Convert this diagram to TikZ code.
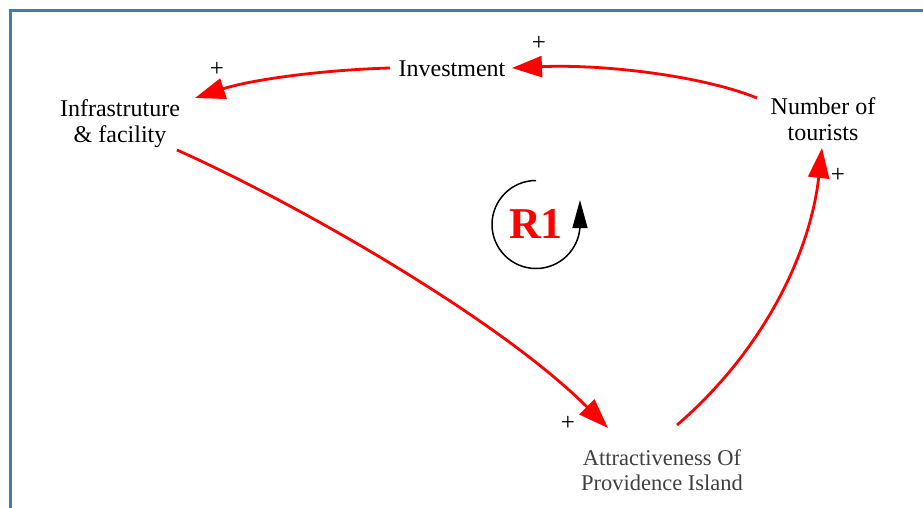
\documentclass[tikz,border=0pt]{standalone}
\usepackage{fontspec}
\setmainfont{Liberation Serif}
\usetikzlibrary{arrows.meta}
\definecolor{framecol}{RGB}{74,122,163}
\definecolor{txtgray}{RGB}{64,64,64}
\begin{document}
\begin{tikzpicture}[x=1pt,y=-1pt,
  var/.style={inner sep=0pt,align=center,font=\fontsize{24}{26}\selectfont},
  pol/.style={inner sep=0pt,font=\fontsize{25}{27}\selectfont},
  link/.style={draw=red,line width=2.8pt,-{Triangle[length=30pt,width=21pt]}}]
\useasboundingbox (0,0) rectangle (923,508);
\draw[framecol,line width=3pt] (10.5,510) -- (10.5,10.5) -- (925,10.5);
\node[var] (inv) at (452,69) {Investment};
\node[var] (inf) at (120,124) {Infrastruture\\\& facility};
\node[var] (tour) at (823,119) {Number of\\tourists};
\node[inner sep=0pt,align=center,text=txtgray,font=\fontsize{22.5}{25}\selectfont] (attr) at (662,470) {Attractiveness Of\\Providence Island};
\node[inner sep=0pt,text=red,font=\fontsize{44}{48}\selectfont\bfseries] (r1) at (536,224) {R1};
\node[pol] (p1) at (539,43) {+};
\node[pol] (p2) at (217,69) {+};
\node[pol] (p3) at (568,423) {+};
\node[pol] (p4) at (838,175) {+};
\draw[link] ([shift={(-66,-21)}]tour.center) .. controls (700,75) and (600,64) .. ([shift={(60,-1)}]inv.center);
\draw[link] ([shift={(-62,-1)}]inv.center) .. controls (320,70) and (250,80) .. ([shift={(75,-26)}]inf.center);
\draw[link] ([shift={(57,26)}]inf.center) .. controls (300,205) and (500,320) .. ([shift={(-54,-42)}]attr.center);
\draw[link] ([shift={(15,-45)}]attr.center) .. controls (762,352) and (810,255) .. ([shift={(-1,29)}]tour.center);
\draw[line width=1.5pt,-{Triangle[length=28pt,width=15pt]}] ([shift={(0,-43.5)}]r1.center) arc[start angle=-90,end angle=-358,radius=44] -- ++(0,-26);
\end{tikzpicture}
\end{document}
